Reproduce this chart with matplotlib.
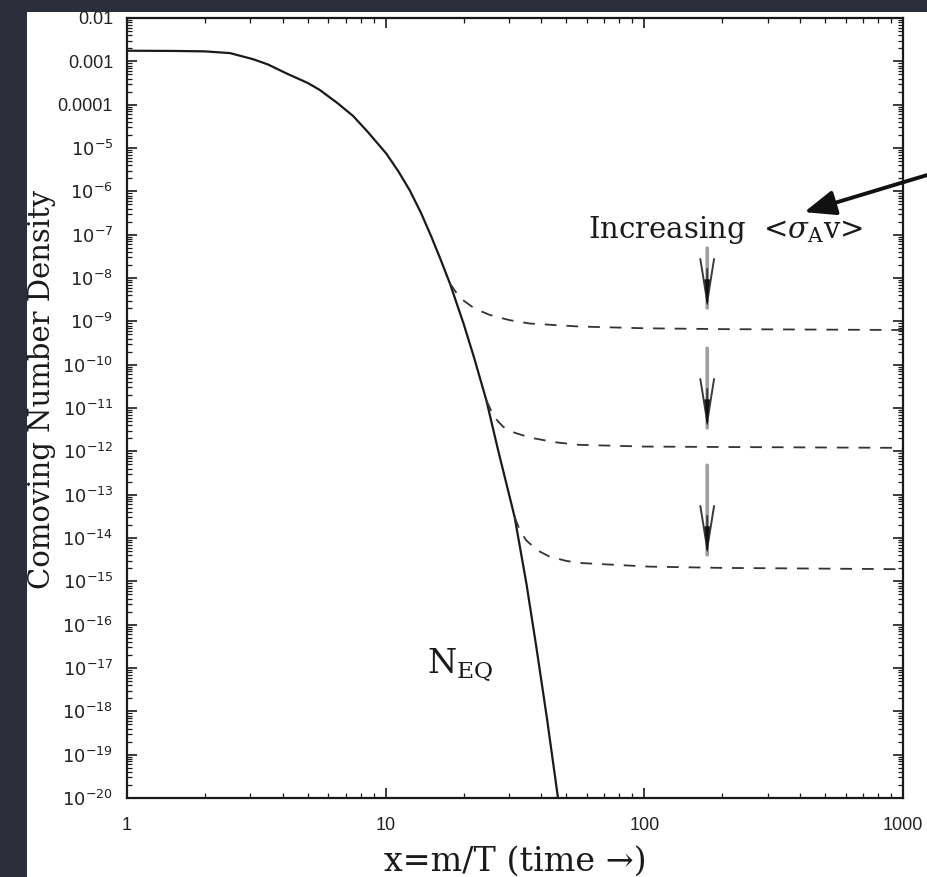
import numpy as np
import matplotlib
matplotlib.use('Agg')
import matplotlib.pyplot as plt
from matplotlib.patches import Rectangle
from matplotlib.ticker import FixedLocator, FixedFormatter, NullFormatter

# equilibrium curve (x, log10 of comoving number density)
eq_x = [1.0, 1.5, 2.0, 2.5, 3.07, 3.5, 4.14, 5.0, 5.56, 6.5, 7.48, 8.5, 10.06,
        11.2, 12.4, 13.7, 15.0, 16.3, 17.7, 20.0, 22.0, 24.5, 27.2, 31.5, 35.0,
        38.2, 42.0, 46.3]
eq_log = [-2.755, -2.76, -2.77, -2.81, -2.95, -3.07, -3.28, -3.50, -3.66, -3.96,
          -4.26, -4.62, -5.13, -5.54, -5.98, -6.50, -7.04, -7.57, -8.12, -9.05,
          -9.85, -10.82, -11.97, -13.51, -15.05, -16.50, -18.15, -19.97]

# freeze-out curves (dashed)
fo1_x = [17.7, 18.8, 19.9, 22.0, 25.2, 30, 36, 56, 100, 200, 1000]
fo1_log = [-8.12, -8.35, -8.51, -8.70, -8.85, -8.97, -9.05, -9.12, -9.16, -9.18, -9.20]
fo2_x = [24.5, 26.2, 28.4, 31.5, 36, 45, 56, 100, 200, 1000]
fo2_log = [-10.82, -11.20, -11.43, -11.57, -11.68, -11.79, -11.85, -11.89, -11.90, -11.92]
fo3_x = [31.5, 33.0, 34.9, 38.5, 43, 50, 57.8, 104, 200, 1000]
fo3_log = [-13.51, -13.82, -14.05, -14.28, -14.43, -14.53, -14.58, -14.66, -14.69, -14.72]

# grey "increasing" arrows: x position, (tail, tip) exponents
arrow_x = 175
arrow_spans = [(-7.31, -8.69), (-9.62, -11.46), (-12.32, -14.39)]

ytick_exp = list(range(-20, -1))
ytick_labels = ['$10^{%d}$' % e for e in range(-20, -4)] + ['0.0001', '0.001', '0.01']
xticks = [1, 10, 100, 1000]
xtick_labels = ['1', '10', '100', '1000']

W, H = 928, 877
fig = plt.figure(figsize=(W / 100, H / 100), dpi=100)
fig.patch.set_facecolor('#2c2f3b')
fig.add_artist(Rectangle((27 / W, 0), 1 - 27 / W, 1 - 12 / H, transform=fig.transFigure,
                         facecolor='white', edgecolor='none', zorder=0))

ax = fig.add_axes([127 / W, 1 - 798 / H, 776 / W, 780 / H])
ax.set_xscale('log')
ax.set_yscale('log')
ax.set_xlim(1, 1000)
ax.set_ylim(1e-20, 1e-2)

ink = '#1a1a1a'
ax.plot(eq_x, 10.0 ** np.array(eq_log), color=ink, lw=1.6, solid_joinstyle='round')
for fx, fl in [(fo1_x, fo1_log), (fo2_x, fo2_log), (fo3_x, fo3_log)]:
    ax.plot(fx, 10.0 ** np.array(fl), color='#333333', lw=1.3, dashes=(6.5, 5.5))

for tail, tip in arrow_spans:
    ax.annotate('', xy=(arrow_x, 10.0 ** tip), xytext=(arrow_x, 10.0 ** tail),
                arrowprops=dict(arrowstyle='-', color='#a0a0a0', lw=2.6, shrinkA=0, shrinkB=0))
    ax.annotate('', xy=(arrow_x, 10.0 ** tip), xytext=(arrow_x, 10.0 ** (tip + 0.9)),
                arrowprops=dict(arrowstyle='->,head_length=2.8,head_width=0.45',
                                color='#3a3a3a', lw=1.4, mutation_scale=11,
                                shrinkA=0, shrinkB=0))
    ax.annotate('', xy=(arrow_x, 10.0 ** tip), xytext=(arrow_x, 10.0 ** (tip + 0.5)),
                arrowprops=dict(arrowstyle='-|>,head_length=1.6,head_width=0.15',
                                color='#111111', lw=0.5, mutation_scale=11,
                                shrinkA=0, shrinkB=0))

# black pointer arrow from off the right edge
ax.annotate('', xy=(415, 10 ** -6.48), xytext=(1380, 10 ** -5.54),
            arrowprops=dict(arrowstyle='-|>,head_length=1.0,head_width=0.4',
                            color='#111111', lw=2.8, mutation_scale=19, shrinkA=0, shrinkB=0),
            annotation_clip=False)

serif = 'DejaVu Serif'
t = ax.text(60.3, 10 ** -6.90, r'Increasing  <$\sigma_{\rm A}$v>', family=serif,
            fontsize=21, color=ink, ha='left', va='center')
t.set_math_fontfamily('dejavuserif')
t = ax.text(14.4, 10 ** -16.93, r'N$_{\rm EQ}$', family=serif, fontsize=24,
            color=ink, ha='left', va='center')
t.set_math_fontfamily('dejavuserif')

# minor ticks at 2..9 of every decade
xminor = [s * 10.0 ** d for d in range(0, 3) for s in range(2, 10)]
yminor = [s * 10.0 ** d for d in range(-20, -2) for s in range(2, 10)]
ax.xaxis.set_major_locator(FixedLocator(xticks))
ax.xaxis.set_major_formatter(FixedFormatter(xtick_labels))
ax.xaxis.set_minor_locator(FixedLocator(xminor))
ax.xaxis.set_minor_formatter(NullFormatter())
ax.yaxis.set_major_locator(FixedLocator([10.0 ** e for e in ytick_exp]))
ax.yaxis.set_major_formatter(FixedFormatter(ytick_labels))
ax.yaxis.set_minor_locator(FixedLocator(yminor))
ax.yaxis.set_minor_formatter(NullFormatter())

ax.tick_params(which='both', direction='in', top=True, right=True, color=ink)
ax.tick_params(which='major', length=7, width=1.2, labelsize=13, labelcolor='#222222')
ax.tick_params(which='minor', length=3.5, width=0.9)
ax.tick_params(axis='y', which='major', pad=10)
ax.tick_params(axis='x', which='major', pad=14)
for lab in ax.get_xticklabels() + ax.get_yticklabels():
    lab.set_family('Liberation Sans')
    lab.set_math_fontfamily('dejavusans')
for sp in ax.spines.values():
    sp.set_linewidth(1.6)
    sp.set_color(ink)

fig.text(515 / W, 1 - 862 / H, 'x=m/T (time \u2192)', family=serif, fontsize=24,
         color=ink, ha='center', va='center')
fig.text(42 / W, 1 - 389 / H, 'Comoving Number Density', family=serif, fontsize=21,
         color=ink, ha='center', va='center', rotation=90)

fig.savefig('out.png', dpi=100, facecolor=fig.get_facecolor())
